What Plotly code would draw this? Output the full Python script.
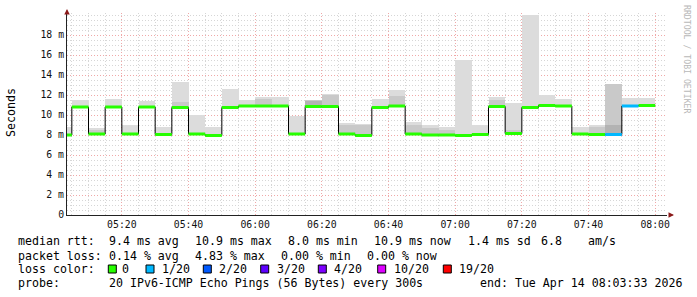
import plotly.graph_objects as go
from datetime import datetime, timedelta

# ---------------- data ----------------
step_start = "2026-04-14 05:00:00"
step_minutes = 5
median_ms = [8.0, 10.8, 8.1, 10.8, 8.1, 10.8, 8.05, 10.75, 8.1, 7.95,
             10.75, 10.9, 10.9, 10.9, 8.1, 10.85, 10.85, 8.1, 7.95, 10.75,
             10.9, 8.1, 8.0, 8.0, 7.95, 8.05, 10.85, 8.15, 10.75, 10.95,
             10.9, 8.1, 8.05, 8.05, 10.9, 10.95]
loss_idx = [0, 0, 0, 0, 0, 0, 0, 0, 0, 0,
            0, 0, 0, 0, 0, 0, 0, 0, 0, 0,
            0, 0, 0, 0, 0, 0, 0, 0, 0, 0,
            0, 0, 0, 1, 1, 0]
smoke_max = [8.8, 11.55, 8.7, 11.6, 9.0, 11.4, 8.8, 13.3, 10.05, 8.8,
             12.6, 11.55, 11.8, 11.8, 9.9, 11.55, 12.1, 9.2, 9.1, 11.6,
             12.5, 9.3, 9.0, 8.8, 15.5, 9.0, 11.8, 11.2, 20.05, 12.0,
             11.6, 8.8, 9.0, 13.1, 11.7, 11.7]
smoke_mid = [None, None, 8.5, None, None, None, None, 11.3, None, None,
             None, None, 11.6, None, None, 11.5, 12.0, 9.0, 9.0, None,
             11.9, 9.0, 8.7, 8.5, None, None, 11.5, 8.5, None, None,
             None, None, 8.85, 13.1, None, None]
smoke_dark = [None, None, None, None, None, None, None, None, None, None,
              None, None, None, None, None, 11.45, None, None, None, None,
              None, None, None, None, None, None, None, None, None, None,
              None, None, None, 9.0, None, None]

y_tick_vals = [0, 2, 4, 6, 8, 10, 12, 14, 16, 18]
y_tick_text = ["0", "2 m", "4 m", "6 m", "8 m", "10 m", "12 m", "14 m", "16 m", "18 m"]
x_start = "2026-04-14 05:03:33"
x_end = "2026-04-14 08:03:33"

loss_labels = ["0", "1/20", "2/20", "3/20", "4/20", "10/20", "19/20"]
loss_colors = ["#26ff00", "#00b8ff", "#0059ff", "#5e00ff", "#7e00ff", "#dd00ff", "#ff0000"]

legend_rows = [
    [("median rtt:", 16), ("9.4 ms avg", 107.3), ("10.9 ms max", 193.3), ("8.0 ms min", 286),
     ("10.9 ms now", 372.3), ("1.4 ms sd", 466), ("6.8", 539.3), ("am/s", 586)],
    [("packet loss:", 16), ("0.14 % avg", 107.3), ("4.83 % max", 192.7), ("0.00 % min", 278.7),
     ("0.00 % now", 365)],
    [("loss color:", 16)],
    [("probe:", 16), ("20 IPv6-ICMP Echo Pings (56 Bytes) every 300s", 107.3),
     ("end: Tue Apr 14 08:03:33 2026", 478.3)],
]
legend_row_y = [241, 255.5, 269, 283]
legend_box_x = [108.3, 146, 203.3, 260.7, 318.3, 377.7, 443.3]
legend_lbl_x = [120, 160, 217.3, 275, 332.3, 391.7, 457.3]

# ---------------- geometry ----------------
W, H = 697, 297
L, R, T, B = 67, 30, 13, 82
PW, PH = W - L - R, H - T - B
FONT = "DejaVu Sans Mono"


def px(xp):
    return (xp - L) / PW


def py(yp):
    return (H - B - yp) / PH


t0 = datetime.fromisoformat(step_start)
dt = timedelta(minutes=step_minutes)
starts = [t0 + i * dt for i in range(len(median_ms))]
centers = [s + dt / 2 for s in starts]
lo = [m - 0.1 for m in median_ms]

fig = go.Figure()


def smoke(top, color):
    ys = [(t - l) if t is not None else None for t, l in zip(top, lo)]
    fig.add_trace(go.Bar(x=centers, y=ys, base=lo, width=step_minutes * 60000,
                         marker=dict(color=color, line=dict(width=0)),
                         hoverinfo="skip"))


smoke(smoke_max, "#dcdcdc")
smoke(smoke_mid, "#c9c9c9")
smoke(smoke_dark, "#b3b3b3")

# black step line of median
fig.add_trace(go.Scatter(x=starts + [starts[-1] + dt], y=median_ms + [median_ms[-1]],
                         mode="lines", line=dict(color="#000000", width=1, shape="hv"),
                         hoverinfo="skip"))

# colored median segments by loss
for ci, col in enumerate(loss_colors):
    xs, ys = [], []
    for s, m, li in zip(starts, median_ms, loss_idx):
        if li == ci:
            xs += [s, s + dt, None]
            ys += [m, m, None]
    if xs:
        fig.add_trace(go.Scatter(x=xs, y=ys, mode="lines",
                                 line=dict(color=col, width=3), hoverinfo="skip"))

ann = []
# legend texts
for row, yp in zip(legend_rows, legend_row_y):
    for txt, xp in row:
        ann.append(dict(x=px(xp), y=py(yp), xref="paper", yref="paper", text=txt,
                        showarrow=False, xanchor="left", yanchor="middle",
                        font=dict(family=FONT, size=11.6, color="#000000")))
shapes = []
for bx, lx, lab, col in zip(legend_box_x, legend_lbl_x, loss_labels, loss_colors):
    shapes.append(dict(type="rect", xref="paper", yref="paper",
                       x0=px(bx), x1=px(bx + 8), y0=py(273), y1=py(265),
                       fillcolor=col, line=dict(color="#000000", width=1)))
    ann.append(dict(x=px(lx), y=py(legend_row_y[2]), xref="paper", yref="paper", text=lab,
                    showarrow=False, xanchor="left", yanchor="middle",
                    font=dict(family=FONT, size=11.6, color="#000000")))

# y title
ann.append(dict(x=px(11), y=py(113), xref="paper", yref="paper", text="Seconds",
                showarrow=False, textangle=-90, xanchor="center", yanchor="middle",
                font=dict(family=FONT, size=11.6, color="#000000")))
# watermark
ann.append(dict(x=px(687), y=py(59), xref="paper", yref="paper", text="RRDTOOL / TOBI OETIKER",
                showarrow=False, textangle=90, xanchor="center", yanchor="middle",
                font=dict(family=FONT, size=8.2, color="#b8b8b8")))
# axis arrows
ann.append(dict(x=0, y=py(9), xref="paper", yref="paper", ax=0, ay=5, text="",
                showarrow=True, arrowhead=2, arrowsize=1.0, arrowwidth=1.1, arrowcolor="#8b1a1a"))
ann.append(dict(x=px(674), y=0, xref="paper", yref="paper", ax=-5, ay=0, text="",
                showarrow=True, arrowhead=2, arrowsize=1.0, arrowwidth=1.1, arrowcolor="#8b1a1a"))

fig.update_layout(
    width=W, height=H, autosize=False,
    margin=dict(l=L, r=R, t=T, b=B, pad=0),
    paper_bgcolor="#ffffff", plot_bgcolor="#ffffff",
    showlegend=False, barmode="overlay", bargap=0,
    annotations=ann, shapes=shapes,
    font=dict(family=FONT, color="#000000"),
)
fig.update_xaxes(
    type="date", range=[x_start, x_end],
    tick0="2026-04-14 05:00:00", dtick=20 * 60000, tickformat="%H:%M",
    showgrid=True, gridcolor="#f0a8a8", griddash="1px,2px", gridwidth=1,
    minor=dict(dtick=5 * 60000, showgrid=True, gridcolor="#d6d6d6", griddash="1px,2px", gridwidth=1),
    showline=True, linecolor="#222222", linewidth=1, zeroline=False,
    ticks="", tickfont=dict(family=FONT, size=9.8, color="#111111"),
)
fig.update_yaxes(
    range=[0, (H - B - T) / 10.0],
    tickvals=y_tick_vals, ticktext=y_tick_text,
    showgrid=True, gridcolor="#f0a8a8", griddash="1px,2px", gridwidth=1,
    minor=dict(dtick=0.5, showgrid=True, gridcolor="#d6d6d6", griddash="1px,2px", gridwidth=1),
    showline=True, linecolor="#222222", linewidth=1, zeroline=False,
    ticks="", tickfont=dict(family=FONT, size=9.8, color="#111111"),
)

fig.write_html("out.html")
